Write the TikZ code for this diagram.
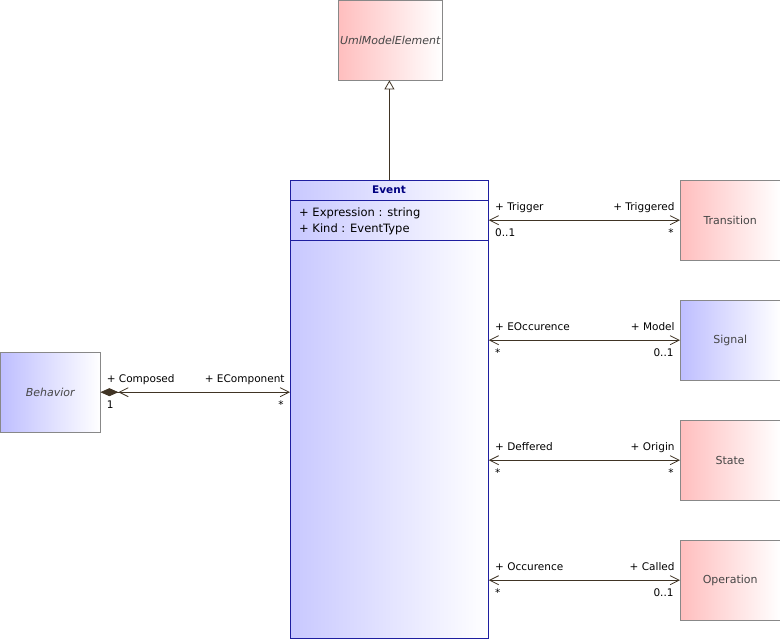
\documentclass[tikz,border=0pt]{standalone}
\usepackage{fontspec}
\setmainfont{DejaVu Sans}
\usetikzlibrary{arrows.meta}
\usetikzlibrary{positioning}

\definecolor{pinkfill}{RGB}{255,190,190}
\definecolor{bluefill}{RGB}{190,190,255}
\definecolor{eventfill}{RGB}{200,200,255}
\definecolor{boxgray}{RGB}{136,136,136}
\definecolor{eventline}{RGB}{30,30,160}
\definecolor{linkcol}{RGB}{64,52,36}
\definecolor{namegray}{RGB}{70,70,70}
\definecolor{navy}{RGB}{0,0,128}

\tikzset{
  classbox/.style={draw=boxgray, minimum width=100pt, minimum height=80pt, inner sep=0pt,
    anchor=north west, text=namegray, font=\fontsize{11}{13}\selectfont},
  pinkbox/.style={classbox, left color=pinkfill, right color=white},
  bluebox/.style={classbox, left color=bluefill, right color=white},
  barb/.tip={Straight Barb[length=9pt,width=9pt]},
  assoc/.style={draw=linkcol, line width=0.8pt, barb-barb},
  role/.style={font=\fontsize{10.5}{12}\selectfont, inner sep=0pt},
  startabove/.style={role, pos=0, anchor=base west, xshift=6pt, yshift=10pt},
  startbelow/.style={role, pos=0, anchor=base west, xshift=6pt, yshift=-16pt},
  endabove/.style={role, pos=1, anchor=base east, xshift=-5pt, yshift=10pt},
  endbelow/.style={role, pos=1, anchor=base east, xshift=-6pt, yshift=-16pt},
}

\begin{document}
\begin{tikzpicture}[x=1pt,y=-1pt]
\useasboundingbox (0,0) rectangle (780,640);

% classes
\node[pinkbox, minimum width=104pt, font=\fontsize{11}{13}\selectfont\itshape] (umlelem) at (338,0) {UmlModelElement};
\node[draw=eventline, line width=0.8pt, left color=eventfill, right color=white, anchor=north west,
  minimum width=198pt, minimum height=458pt] (event) at (290,180) {};
\node[pinkbox] (transition) at (680,180) {Transition};
\node[bluebox] (signal) at (680,300) {Signal};
\node[pinkbox] (state) at (680,420) {State};
\node[pinkbox] (operation) at (680,540) {Operation};
\node[bluebox, font=\fontsize{11}{13}\selectfont\itshape] (behavior) at (0,352) {Behavior};

% event compartments
\node[text=navy, font=\fontsize{10.5}{12}\selectfont\bfseries] (eventname) at (389,190) {Event};
\draw[eventline, line width=0.8pt] (290,200) -- (488,200);
\node[anchor=west, inner sep=0pt, font=\fontsize{11.5}{13}\selectfont] (attrexpr) at (299,213) {+ Expression : string};
\node[anchor=west, inner sep=0pt, font=\fontsize{11.5}{13}\selectfont] (attrkind) at (299,229) {+ Kind : EventType};
\draw[eventline, line width=0.8pt] (290,240) -- (488,240);

% generalization
\draw[linkcol, line width=0.8pt, -{Triangle[open,length=9pt,width=10pt]}] (event.north) -- (event.north |- umlelem.south);

% associations
\draw[assoc] (event.east |- transition) -- (transition.west)
  node[startabove] {+ Trigger}
  node[startbelow] {0..1}
  node[endabove] {+ Triggered}
  node[endbelow] {*};
\draw[assoc] (event.east |- signal) -- (signal.west)
  node[startabove] {+ EOccurence}
  node[startbelow] {*}
  node[endabove] {+ Model}
  node[endbelow] {0..1};
\draw[assoc] (event.east |- state) -- (state.west)
  node[startabove] {+ Deffered}
  node[startbelow] {*}
  node[endabove] {+ Origin}
  node[endbelow] {*};
\draw[assoc] (event.east |- operation) -- (operation.west)
  node[startabove] {+ Occurence}
  node[startbelow] {*}
  node[endabove] {+ Called}
  node[endbelow] {0..1};

% composition
\draw[draw=linkcol, line width=0.8pt, {Diamond[length=18pt,width=8pt,fill=linkcol]barb}-barb] (behavior.east) -- (event.west |- behavior)
  node[startabove] {+ Composed}
  node[startbelow] {1}
  node[endabove] {+ EComponent}
  node[endbelow] {*};
\end{tikzpicture}
\end{document}
